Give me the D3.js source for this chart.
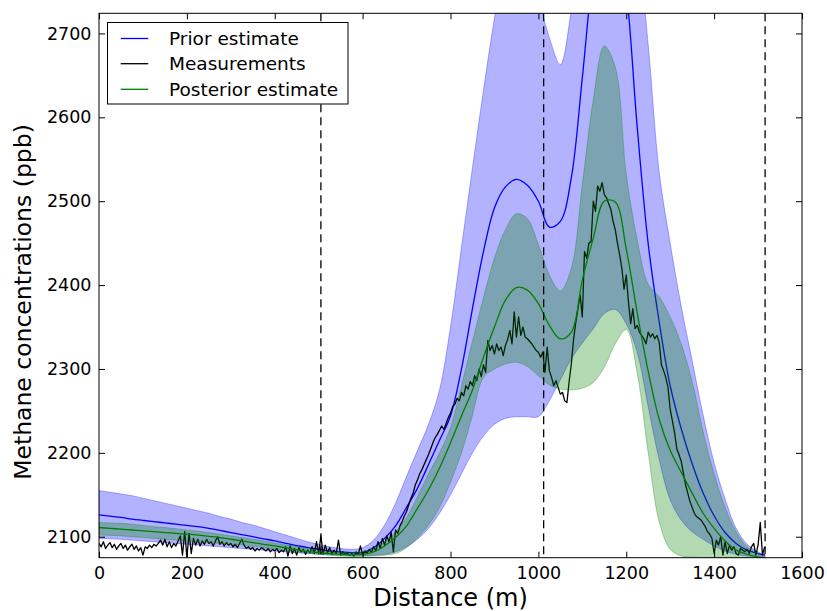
<!DOCTYPE html>
<html><head><meta charset="utf-8">
<script src="https://cdn.jsdelivr.net/npm/d3@7"></script>
<style>body{margin:0;background:#fff}svg{display:block}text{font-family:"DejaVu Sans",sans-serif;fill:#000}</style>
</head><body><svg id="c" width="827" height="611"></svg>
<script>
// ---------------- data ----------------
const xTicks = [0,200,400,600,800,1000,1200,1400,1600];
const yTicks = [2100,2200,2300,2400,2500,2600,2700];
const seriesNames = ["Prior estimate","Measurements","Posterior estimate"];
const markerDist = [505,1012,1516];

// sample distances for the smooth estimates (m)
const gridX = d3.range(0,1525,25).concat([1516]);

const priorMean = [2126,2124.5,2123,2121,2119.5,2118,2116.5,2115,2113.5,2112,
2110,2107.5,2105,2102.5,2100,2097.5,2095,2092,2089.5,2087,
2085,2083,2082,2081,2081,2087,2098,2113,2135,2158,
2186,2215,2244,2300,2372,2440,2492,2517,2526,2519,
2500,2469,2476,2528,2647,2775,2848,2835,2752,2588,
2449,2356,2280,2229,2187,2152,2125,2105,2092,2084,
2080,2078];
const priorHi = [2155,2153,2151,2149,2146,2143,2140,2137,2134,2131,
2128,2124,2121,2117,2114,2110,2106,2102,2098,2094,
2091,2088,2086,2085,2087,2096,2114,2140,2172,2203,
2234,2275,2350,2445,2540,2632,2718,2790,2830,2815,
2745,2695,2663,2728,2820,2890,2910,2900,2870,2810,
2686,2535,2450,2375,2310,2245,2188,2145,2110,2091,
2082,2078];
const priorLo = [2098,2097.5,2097,2096,2095,2094,2093,2092,2091,2090,
2089,2088,2087,2086,2085,2084,2083,2082,2081,2080,
2079,2078.5,2078,2077.5,2077.5,2078,2079,2082,2088,2097,
2110,2128,2150,2175,2200,2220,2234,2241,2243,2243,
2243,2262,2287,2312,2331,2348,2366,2371,2354,2320,
2255,2192,2144,2120,2106,2097,2089,2083,2079,2077,
2076,2075];
const postMean = [2111,2110,2109,2108,2107,2106,2105,2104,2103,2102,
2100.5,2099,2097,2095,2093,2091,2089,2087,2084.5,2082.5,
2081,2080,2079,2078.5,2079,2082,2089,2099,2113,2134,
2156,2182,2212,2244,2275,2314,2350,2382,2397,2394,
2378,2352,2336,2344,2406,2456,2500,2499,2443,2367,
2297,2240,2203,2177,2152,2128,2110,2095,2084,2079,
2076,2075];
const postHi = [2117,2116.5,2116,2115,2113.5,2112,2111,2109.5,2108,2106.5,
2105,2103,2101,2099,2097,2095,2092.5,2090,2088,2086,
2084,2082.5,2081.5,2081,2082,2086,2094,2106,2123,2148,
2175,2200,2230,2280,2333,2385,2432,2466,2485,2479,
2448,2412,2393,2420,2520,2621,2685,2660,2532,2454,
2401,2386,2362,2330,2285,2225,2175,2135,2106,2088,
2080,2076];
const postLo = [2102,2101.5,2101,2100,2099,2098,2097,2096,2095,2094,
2093,2092,2091,2090,2088.5,2087,2085.5,2084,2082,2080.5,
2079,2078,2077,2076.5,2076.5,2077,2078,2080,2087,2099,
2114,2135,2165,2200,2245,2290,2300,2306,2308,2303,
2292,2281,2276,2275,2277,2284,2302,2330,2347,2295,
2200,2118,2085,2077,2076,2075,2075,2075,2075,2075,
2075,2075];

// measurements, every 5 m from 0 m
const measDist = d3.range(0,1520,5);
const measVals = [
2092,2088,2094,2086,2090,2093,2087,2091,2085,2089,2092,2086,2090,2084,2088,2091,2085,2089,2083,2087,
2078,2088,2086,2090,2087,2091,2089,2092,2096,2090,2097,2088,2094,2087,2092,2089,2095,2101,2078,2106,
2076,2104,2080,2098,2090,2097,2089,2095,2091,2097,2092,2094,2089,2095,2100,2091,2094,2089,2093,2090,
2092,2088,2091,2087,2092,2097,2090,2086,2088,2085,2087,2083,2086,2084,2087,2085,2083,2086,2082,2085,
2083,2086,2081,2084,2082,2088,2077,2089,2080,2086,2078,2087,2082,2085,2079,2084,2081,2088,2080,2094,
2080,2101,2079,2090,2081,2087,2079,2084,2080,2096,2078,2082,2079,2081,2078,2080,2077,2082,2079,2089,
2078,2083,2080,2085,2081,2088,2083,2094,2086,2098,2090,2101,2094,2105,2082,2108,2104,2113,2118,2125,
2130,2138,2146,2152,2162,2168,2175,2180,2186,2192,2198,2205,2212,2218,2222,2227,2232,2228,2235,2242,
2247,2255,2258,2265,2262,2272,2268,2280,2276,2285,2280,2292,2286,2300,2291,2305,2296,2334,2322,2328,
2318,2330,2322,2326,2316,2328,2335,2346,2330,2368,2338,2362,2340,2350,2338,2336,2333,2330,2326,2322,
2320,2314,2320,2296,2326,2298,2290,2280,2286,2278,2270,2272,2262,2260,2285,2306,2335,2355,2372,2388,
2362,2440,2432,2450,2452,2500,2488,2518,2512,2522,2508,2504,2497,2490,2476,2466,2450,2436,2420,2395,
2412,2380,2354,2372,2348,2352,2344,2340,2336,2330,2344,2338,2342,2336,2340,2332,2305,2298,2290,2278,
2252,2238,2224,2205,2198,2190,2176,2162,2152,2142,2135,2128,2124,2122,2120,2116,2112,2106,2103,2098,
2080,2096,2090,2100,2078,2094,2080,2090,2084,2088,2080,2078,2086,2084,2082,2085,2080,2088,2092,2078,
2090,2117,2078,2088];

// ---------------- chart ----------------
const svg = d3.select("#c");
const L=99, R=802, T=13.3, B=557.7;
const x = d3.scaleLinear().domain([0,1600]).range([L,R]);
const y = d3.scaleLinear().domain([2075,2724]).range([B,T]);
const BLUE="#0000ff", GREEN="#008000";

svg.append("defs").append("clipPath").attr("id","pc")
  .append("rect").attr("x",L).attr("y",T).attr("width",R-L).attr("height",B-T);
const plot = svg.append("g").attr("clip-path","url(#pc)");

const idx = d3.range(gridX.length);
const curve = d3.curveCatmullRom.alpha(0.5);
const band = (lo,hi)=>d3.area().x(i=>x(gridX[i])).y0(i=>y(lo[i])).y1(i=>y(hi[i])).curve(curve)(idx);
const mline = (m)=>d3.line().x(i=>x(gridX[i])).y(i=>y(m[i])).curve(curve)(idx);

plot.append("path").attr("d",band(priorLo,priorHi))
  .attr("fill",BLUE).attr("fill-opacity",0.3).attr("stroke",BLUE).attr("stroke-opacity",0.3).attr("stroke-width",1);
plot.append("path").attr("d",mline(priorMean)).attr("fill","none").attr("stroke",BLUE).attr("stroke-width",1.3);

plot.append("path")
  .attr("d", d3.line().x((d,i)=>x(measDist[i])).y(d=>y(d))(measVals))
  .attr("fill","none").attr("stroke","#000").attr("stroke-width",1.3).attr("stroke-linejoin","round");

plot.append("path").attr("d",band(postLo,postHi))
  .attr("fill",GREEN).attr("fill-opacity",0.3).attr("stroke",GREEN).attr("stroke-opacity",0.3).attr("stroke-width",1);
plot.append("path").attr("d",mline(postMean)).attr("fill","none").attr("stroke",GREEN).attr("stroke-width",1.3);

plot.selectAll("line.mk").data(markerDist).enter().append("line")
  .attr("x1",d=>x(d)).attr("x2",d=>x(d)).attr("y1",T).attr("y2",B)
  .attr("stroke","#000").attr("stroke-width",1.3).attr("stroke-dasharray","8,5");

// axes
function styleAxis(g){ g.select(".domain").remove(); g.selectAll("line").attr("stroke","#000").attr("stroke-width",1);
  g.attr("font-family",null).attr("font-size",null); g.selectAll("text").style("font-size","17.5px"); }
svg.append("g").attr("transform",`translate(0,${B})`)
  .call(d3.axisBottom(x).tickValues(xTicks).tickSize(-6).tickSizeOuter(0).tickPadding(9).tickFormat(d3.format("d"))).call(styleAxis);
svg.append("g").attr("transform",`translate(${L},0)`)
  .call(d3.axisLeft(y).tickValues(yTicks).tickSize(-6).tickSizeOuter(0).tickPadding(7.5).tickFormat(d3.format("d"))).call(styleAxis);
svg.append("g").attr("transform",`translate(0,${T})`)
  .call(d3.axisTop(x).tickValues(xTicks).tickSize(-6).tickSizeOuter(0).tickFormat("")).call(styleAxis);
svg.append("g").attr("transform",`translate(${R},0)`)
  .call(d3.axisRight(y).tickValues(yTicks).tickSize(-6).tickSizeOuter(0).tickFormat("")).call(styleAxis);

svg.append("rect").attr("x",L).attr("y",T).attr("width",R-L).attr("height",B-T)
  .attr("fill","none").attr("stroke","#000").attr("stroke-width",1);

svg.append("text").attr("x",(L+R)/2).attr("y",606).attr("text-anchor","middle")
  .style("font-size","24px").text("Distance (m)");
svg.append("text").attr("transform","translate(31,302) rotate(-90)").attr("text-anchor","middle")
  .style("font-size","23.5px").text("Methane concentrations (ppb)");

// legend
const lg = svg.append("g");
lg.append("rect").attr("x",107.5).attr("y",22.5).attr("width",240.5).attr("height",81.5)
  .attr("fill","#fff").attr("stroke","#000").attr("stroke-width",1);
const legColors=[BLUE,"#000",GREEN];
const rows=[38.5,63.7,89.3];
seriesNames.forEach((n,i)=>{
  lg.append("line").attr("x1",120.7).attr("x2",148.3).attr("y1",rows[i]).attr("y2",rows[i])
    .attr("stroke",legColors[i]).attr("stroke-width",1.3);
  lg.append("text").attr("x",169).attr("y",rows[i]).attr("dy","0.36em").style("font-size","18.5px").text(n);
});
</script></body></html>
